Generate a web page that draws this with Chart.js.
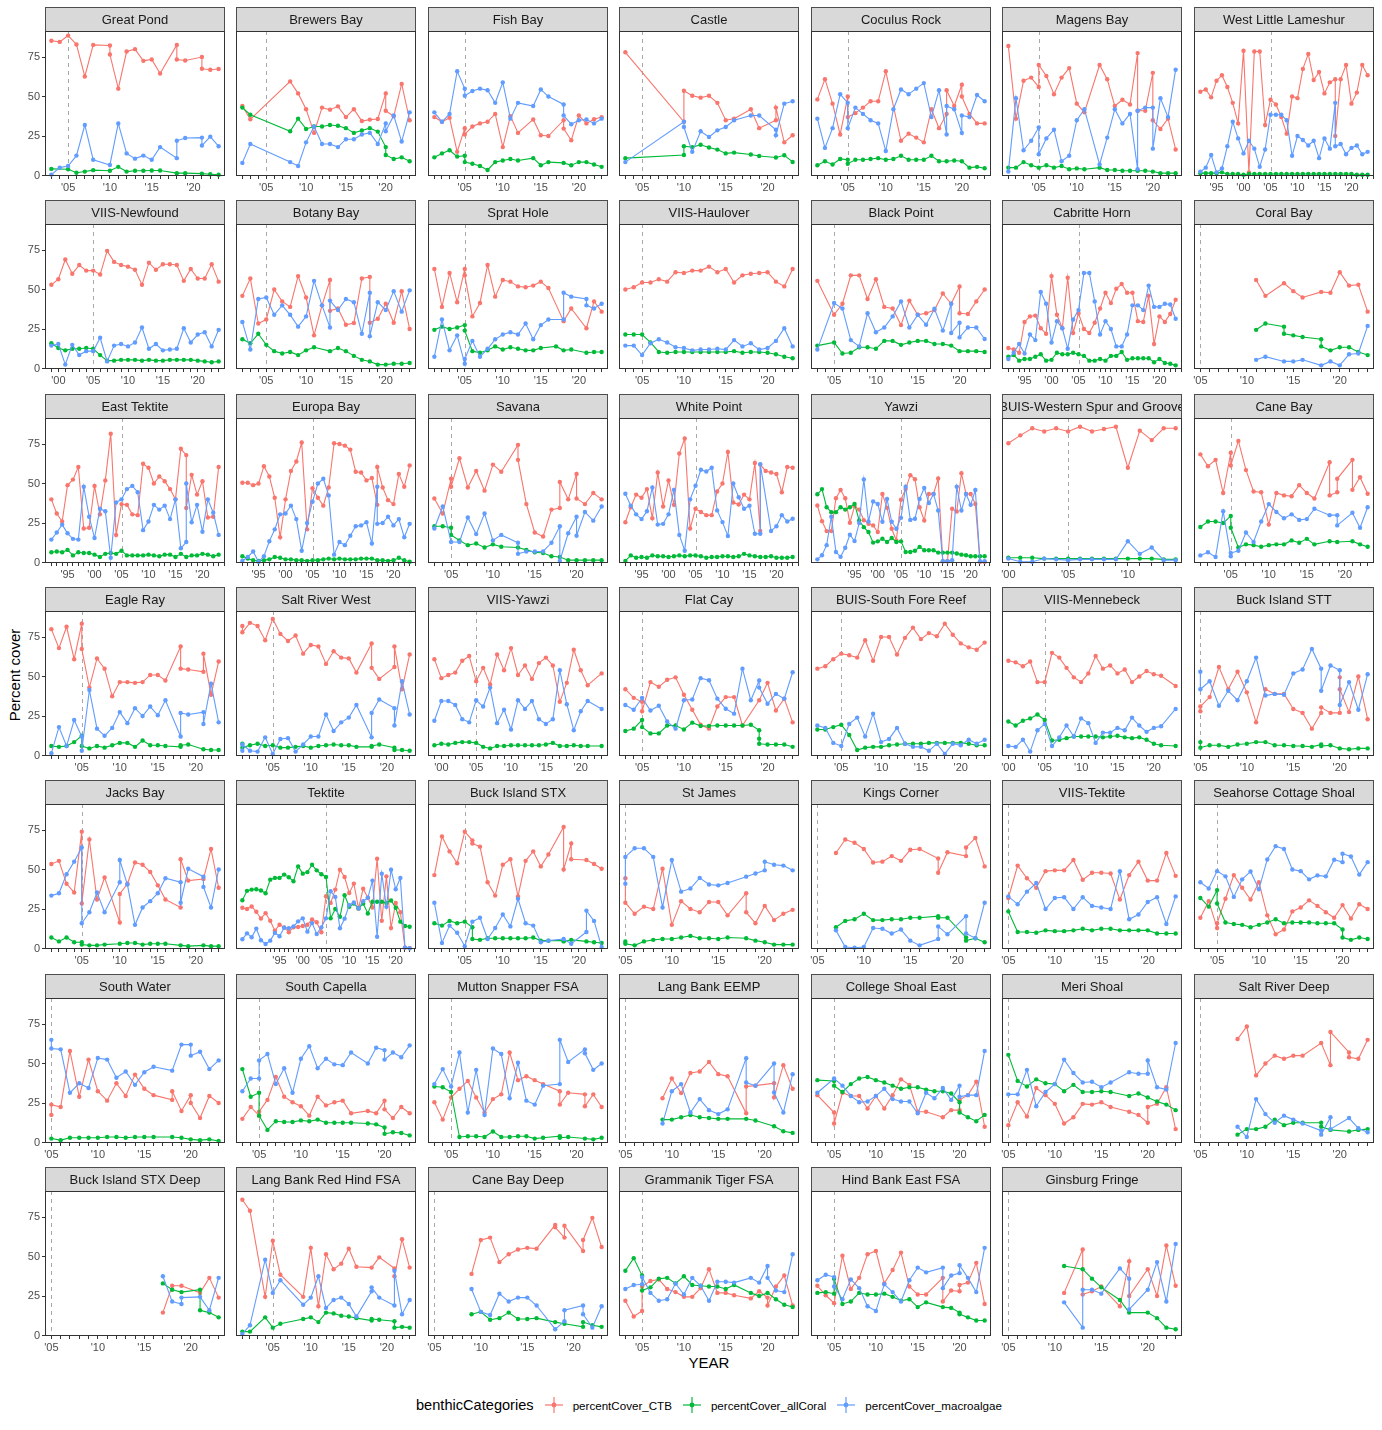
<!DOCTYPE html>
<html lang="en">
<head>
<meta charset="UTF-8">
<title>Percent cover by site</title>
<script src="https://cdn.jsdelivr.net/npm/chart.js"></script>
<style>
  body { margin: 0; background: #fff; font-family: "Liberation Sans", Arial, Helvetica, sans-serif; }
  #page { position: relative; width: 1382px; height: 1430px; overflow: hidden; background: #fff; }
  #page canvas { position: absolute; }
  .title { position: absolute; color: #000; font-size: 15px; white-space: nowrap; }
  #ytitle { left: 14px; top: 675px; transform: translate(-50%, -50%) rotate(-90deg); }
  #xtitle { left: 709px; top: 1362px; transform: translate(-50%, -50%); }
  #legend { position: absolute; left: 416px; top: 1405px; transform: translateY(-50%);
            display: flex; align-items: center; color: #000; white-space: nowrap; }
  #legend .head { font-size: 14.6px; margin-right: 11px; }
  #legend .item { display: flex; align-items: center; font-size: 11.6px; margin-right: 11px; }
  #legend svg { margin-right: 10px; }
</style>
</head>
<body>
<div id="page">
  <div class="title" id="ytitle">Percent cover</div>
  <div class="title" id="xtitle">YEAR</div>
  <div id="legend"><span class="head">benthicCategories</span></div>
</div>

<script>
// ---- data ----
const SERIES_NAMES = ['percentCover_CTB', 'percentCover_allCoral', 'percentCover_macroalgae'];

const SITE_NAMES = [
  'Great Pond', 'Brewers Bay', 'Fish Bay', 'Castle', 'Coculus Rock', 'Magens Bay', 'West Little Lameshur',
  'VIIS-Newfound', 'Botany Bay', 'Sprat Hole', 'VIIS-Haulover', 'Black Point', 'Cabritte Horn', 'Coral Bay',
  'East Tektite', 'Europa Bay', 'Savana', 'White Point', 'Yawzi', 'BUIS-Western Spur and Groove', 'Cane Bay',
  'Eagle Ray', 'Salt River West', 'VIIS-Yawzi', 'Flat Cay', 'BUIS-South Fore Reef', 'VIIS-Mennebeck', 'Buck Island STT',
  'Jacks Bay', 'Tektite', 'Buck Island STX', 'St James', 'Kings Corner', 'VIIS-Tektite', 'Seahorse Cottage Shoal',
  'South Water', 'South Capella', 'Mutton Snapper FSA', 'Lang Bank EEMP', 'College Shoal East', 'Meri Shoal', 'Salt River Deep',
  'Buck Island STX Deep', 'Lang Bank Red Hind FSA', 'Cane Bay Deep', 'Grammanik Tiger FSA', 'Hind Bank East FSA', 'Ginsburg Fringe'
];

const SITE_YEARS = [
  [2003,2004,2005,2006,2007,2008,2010,2010,2011,2012,2013,2014,2015,2016,2018,2018,2019,2021,2021,2022,2023],
  [2002,2003,2008,2009,2010,2011,2012,2013,2014,2015,2016,2017,2018,2019,2020,2020,2021,2022,2023],
  [2001,2002,2003,2004,2005,2005,2006,2007,2008,2009,2010,2011,2012,2014,2015,2016,2018,2018,2019,2020,2021,2022,2023],
  [2003,2010,2010,2011,2012,2013,2014,2015,2016,2018,2019,2021,2021,2022,2023],
  [2001,2002,2003,2004,2005,2005,2006,2007,2008,2009,2010,2011,2012,2013,2014,2015,2016,2017,2018,2018,2019,2020,2020,2021,2022,2023],
  [2001,2002,2003,2004,2005,2005,2006,2007,2008,2009,2010,2011,2013,2014,2015,2016,2017,2018,2018,2019,2020,2020,2021,2022,2023],
  [1992,1993,1994,1995,1996,1997,1998,1999,2000,2001,2002,2003,2004,2005,2006,2007,2008,2009,2010,2011,2012,2013,2014,2015,2016,2017,2017,2018,2019,2020,2021,2022,2023],
  [1999,2000,2001,2002,2003,2004,2005,2006,2007,2008,2009,2010,2011,2012,2013,2014,2015,2016,2017,2018,2019,2020,2021,2022,2023],
  [2002,2003,2004,2005,2006,2007,2008,2009,2010,2011,2012,2013,2013,2014,2015,2016,2017,2018,2018,2019,2020,2021,2022,2023],
  [2001,2002,2003,2004,2005,2005,2006,2007,2008,2009,2010,2011,2012,2013,2014,2015,2016,2017,2018,2018,2019,2021,2021,2022,2023],
  [2003,2004,2005,2006,2007,2008,2009,2010,2011,2012,2013,2014,2015,2016,2017,2018,2019,2020,2021,2022,2023],
  [2003,2005,2006,2007,2008,2009,2010,2011,2012,2013,2014,2015,2016,2017,2018,2019,2019,2020,2020,2021,2022,2023],
  [1992,1993,1994,1995,1996,1997,1998,1999,2000,2001,2002,2003,2004,2005,2006,2007,2008,2009,2010,2011,2012,2013,2014,2015,2016,2017,2018,2019,2020,2021,2022,2023],
  [2011,2012,2014,2014,2015,2016,2018,2018,2019,2020,2021,2022,2023],
  [1992,1993,1994,1995,1996,1997,1998,1999,2000,2001,2002,2003,2004,2005,2006,2007,2008,2009,2010,2011,2012,2013,2014,2015,2016,2017,2017,2018,2019,2020,2021,2022,2023],
  [1992,1993,1994,1995,1996,1997,1998,1999,2000,2001,2002,2003,2004,2005,2006,2007,2008,2009,2010,2011,2012,2013,2014,2015,2016,2017,2017,2018,2019,2020,2021,2022,2023],
  [2003,2004,2005,2005,2006,2007,2008,2009,2010,2011,2013,2013,2014,2015,2016,2017,2018,2018,2019,2020,2020,2021,2022,2023],
  [1992,1993,1994,1995,1996,1997,1998,1999,2000,2001,2002,2003,2004,2005,2006,2007,2008,2009,2010,2011,2012,2013,2014,2015,2016,2017,2017,2018,2019,2020,2021,2022,2023],
  [1987,1988,1989,1990,1991,1992,1993,1994,1995,1996,1997,1998,1999,2000,2001,2002,2003,2004,2005,2006,2007,2008,2009,2010,2011,2012,2013,2014,2015,2016,2017,2018,2019,2020,2021,2022,2023],
  [2000,2001,2002,2003,2004,2005,2006,2007,2008,2009,2010,2011,2012,2013,2014],
  [2001,2002,2003,2004,2005,2005,2006,2007,2008,2009,2010,2011,2012,2013,2014,2015,2016,2018,2018,2019,2019,2021,2021,2022,2023],
  [2001,2002,2003,2004,2005,2005,2006,2007,2008,2009,2010,2011,2012,2013,2014,2015,2016,2018,2018,2019,2021,2021,2022,2023],
  [2001,2001,2002,2003,2004,2005,2006,2007,2008,2009,2010,2011,2012,2013,2014,2015,2016,2018,2018,2019,2021,2021,2022,2023],
  [1999,2000,2001,2002,2003,2004,2005,2006,2007,2008,2009,2010,2011,2012,2013,2014,2015,2016,2017,2018,2019,2020,2021,2023],
  [2003,2004,2005,2005,2006,2007,2008,2009,2010,2011,2012,2013,2014,2015,2016,2017,2018,2019,2019,2019,2020,2021,2022,2023],
  [2002,2003,2004,2005,2006,2007,2008,2009,2010,2011,2012,2013,2014,2015,2016,2017,2018,2019,2020,2021,2022,2023],
  [2000,2001,2002,2003,2004,2005,2006,2007,2008,2009,2010,2011,2012,2013,2014,2015,2016,2017,2018,2019,2020,2021,2023],
  [2005,2005,2006,2007,2008,2009,2010,2011,2012,2013,2014,2015,2016,2017,2018,2018,2019,2020,2020,2020,2021,2022,2023],
  [2001,2002,2003,2004,2005,2005,2006,2007,2008,2010,2010,2011,2012,2013,2014,2015,2016,2018,2018,2019,2021,2021,2022,2023],
  [1987,1988,1989,1990,1991,1992,1993,1994,1995,1996,1997,1998,1999,2000,2001,2002,2003,2004,2005,2006,2007,2008,2009,2010,2011,2012,2013,2014,2015,2016,2017,2018,2019,2020,2021,2022,2023],
  [2001,2002,2003,2004,2005,2006,2006,2007,2008,2009,2010,2011,2012,2013,2014,2015,2016,2018,2018,2019,2019,2021,2021,2022,2023],
  [2005,2005,2006,2007,2008,2009,2010,2011,2012,2013,2014,2015,2016,2018,2018,2019,2020,2020,2021,2022,2023],
  [2007,2008,2009,2010,2011,2012,2013,2014,2015,2016,2018,2018,2019,2021,2021,2022,2023],
  [2005,2006,2007,2008,2009,2010,2011,2012,2013,2014,2015,2016,2017,2018,2019,2020,2021,2022,2023],
  [2003,2004,2005,2005,2006,2007,2008,2009,2010,2011,2012,2013,2014,2015,2016,2017,2018,2019,2020,2020,2021,2022,2023],
  [2005,2005,2006,2007,2008,2009,2010,2011,2012,2013,2014,2015,2016,2018,2018,2019,2020,2020,2021,2022,2023],
  [2003,2004,2005,2005,2006,2007,2008,2009,2010,2011,2012,2013,2014,2015,2016,2018,2019,2020,2020,2021,2022,2023],
  [2003,2004,2005,2006,2007,2008,2009,2010,2011,2012,2013,2014,2015,2016,2018,2018,2019,2021,2021,2022,2023],
  [2009,2010,2011,2012,2013,2014,2015,2016,2018,2018,2019,2021,2021,2022,2023],
  [2003,2005,2005,2006,2007,2008,2009,2010,2011,2012,2013,2014,2015,2016,2017,2018,2019,2020,2020,2021,2022,2023],
  [2005,2006,2007,2008,2009,2010,2011,2012,2013,2014,2015,2016,2018,2019,2020,2020,2021,2022,2023],
  [2009,2010,2011,2012,2013,2014,2015,2016,2018,2018,2019,2019,2021,2021,2022,2023],
  [2017,2018,2019,2019,2021,2021,2022,2023],
  [2001,2002,2004,2005,2006,2009,2010,2011,2012,2013,2014,2015,2016,2018,2018,2019,2021,2021,2022,2023],
  [2009,2010,2011,2012,2013,2014,2015,2016,2018,2018,2019,2019,2021,2021,2022,2023],
  [2003,2004,2005,2005,2006,2007,2008,2009,2010,2011,2012,2013,2014,2015,2016,2018,2019,2020,2020,2021,2022,2023],
  [2003,2004,2005,2005,2006,2007,2008,2009,2010,2011,2012,2013,2014,2015,2016,2018,2018,2019,2020,2020,2021,2022,2023],
  [2011,2013,2013,2014,2015,2017,2018,2018,2020,2021,2022,2023]
];

const CTB_COVER = [
  [85.3,84.6,88.6,83,62.7,82.7,82.3,76.6,55,78.5,80,72.6,73.5,64.6,82.7,73.5,72.8,75,67.6,67,67.4],
  [44,35.6,59.6,52,42,27,43,41.7,43.8,37,42,34.5,35.4,35.8,52,41,37.5,58,35],
  [37,34,36.5,15,30,26,31,33,34,39,18,37.6,27,35.5,25.5,25,35,29.7,22.3,38,33,35.6,37],
  [78,34,53.7,50.5,49.3,50.5,46,35,36,42,30,35,43,21,25.5],
  [48.2,61,45.5,26,50,37,39.5,43,47,47,66,null,22,26.5,24,21,42,30,39,54,44,57.5,50,39,33,33],
  [82,36,60,62,56,70,63,51.5,62,68,45.5,40,70,61,44,48,45,77.5,41,41,65,35,29.5,36,16.5],
  [53,54.5,49.5,60,63.5,56,46,33,79,2,78.5,78.5,32,48,45,37,26.5,50,49,67.5,77,60.5,65.5,52,59,61,25,61,70,45.5,52.5,70,63.5],
  [53,56.5,69,60,65.5,62,62,59.5,74.5,67.5,65.5,64.5,62.5,53,67,62.5,66,66,65.5,55.5,63,57,57,66,55],
  [46,57,28.5,31,50,42.5,39,58.5,45,21,40,56,36.5,38,27.7,28.8,57,58,29,31.5,41,29,49,25],
  [63,39,60.5,42,63,59,33,41.5,65.5,45.5,56,55,52,51.5,52.5,55,51,null,30,null,38,25.5,null,42.5,36],
  [50,51.5,54.5,54.5,56.5,55,61,60.5,62,62,64.5,61,63,54.5,59,60,60.5,61,55,52,63],
  [55.5,34,41,59,59,44,56.5,39,38,27.5,43,34,35,37,47.5,41,null,52,35,34.5,42.5,50],
  [13,12,10,29.5,33,33.5,25.5,22,58.5,34,25.5,57.5,22.5,35,25,22.5,29,38,48,41.5,50.5,53.5,48,48,30,29.5,46,15.5,33,29.5,34.5,43.5],
  [56,46,54,null,49,45,48.5,null,48,61,52.5,53,36],
  [40,31,26,49,52.5,60.5,21.5,22,48.5,30.5,52,81.5,17.5,37,36.5,30.5,30,62.5,60,50,54.5,51.5,46.5,40,72,68,34.5,55.5,43,51.5,28.5,29,60.5],
  [50.5,50.5,49,50,61,54.5,41,16,40,58,64,76,21,47,41,36,47.5,75.5,75,74,71.5,57.5,57,52,53.5,36.5,60.5,47.5,39.5,37,56,48,61.5],
  [40.5,31,53,48,66,47.5,58,45.5,62,57.5,74.5,65,37,19,16.5,33.5,34.5,51,40,56,40.5,37,44,40],
  [25.5,35,43,41,46.5,28,57,35.5,52,36.5,69,78.5,21.5,34,32,30,30,45,50,70,38,36.7,43,40,63,20,62,58,57,56,44.5,60.5,60],
  [36.1,26.2,19.9,19.9,40.7,45.9,40.7,25.2,35.6,33.5,26.8,24.5,23.5,19.3,43.4,34.6,21.4,14,39.8,46.5,55.3,52.8,35,26.6,43.4,43.4,53.2,0.8,0.8,34,32.3,56.6,43.4,43.4,37.1,0.4,0.4],
  [75.5,80.5,85,83,85,83,86,83,84.5,86,60,83.5,77.5,85,85],
  [68.5,61,65,44,69.5,61.5,77,58.5,45,44.5,24,44,42.5,42,49,44,40.5,63.5,42.5,44.5,53,65,46,54,43.5],
  [80,68,81.5,61,83.5,67.5,43,61.5,55,37.5,46.5,46.5,46,46.5,51,51,47.5,69,55,54.5,53,64.5,38.5,59.5],
  [82,78,84,82,73,86.5,77,72.5,76,64.5,70,69,58,66,62,61.5,52.5,71,55.5,48.5,56,69,42,64],
  [61,49,51,52.5,60,63,47,55.5,45,64,54,68,51,57,48.5,58.5,62,57,34,46,67,54,44.5,52],
  [42,36.5,34,28,46.5,43.5,48,49.5,38.5,29,19.5,17,31,37,37,19,null,35,null,null,46,28.5,36,21],
  [55,56.5,61,64.5,63.5,62,73,60,75,75,64,74.5,81,73.7,77.5,75.5,83.5,76.5,71,68.5,67,71.5],
  [60,59,56.5,59.5,46.5,46.5,65,62,55.5,49.5,46.5,52,63,55,57,52,54.5,46.5,50,53.5,51.5,50.5,44],
  [28,31,37,56,42,53,40,21,42,39,39,29.5,27,17,27,30.5,27,27,49.5,42,27.5,50,23],
  [53.5,55.5,41,35.5,74,28.5,69,31,45,16.5,34.5,41,54.5,53,48.5,40,31,26,56.5,43,44,null,63,38.5],
  [25.8,25,26.6,23.3,19,22.4,17.6,11.3,15.1,13.4,10.3,13.4,13.6,14.3,15.1,18.4,16.6,10.3,33.1,28.9,37.3,49.9,45.3,35.2,41.1,25.4,37.9,32.1,26,56.8,17.6,45.7,13,28.9,23,0.6,0.2],
  [46.5,71,61.5,54,74,68.5,66.5,64.5,42,33.5,53,56.5,33,55.5,61.5,52,59.5,77,50,66.5,56.5,56,null,53.5,50.5],
  [44.5,29,22,26.5,25,50.5,15,30,25,23,29.5,29.5,21,35,23,16,27,null,18,22,24.5],
  [60.5,69,67,63,54.5,55,58.5,55.5,62.5,63,57,48,61,58.5,64,70,52],
  [32,52.5,44.5,38.5,49,49.5,49.5,56,43.5,48,48,47.5,31,46.5,55,43,43,60.5,46],
  [19.5,30,13,16,31.5,46.5,38.5,31,42,21,9,12,23.5,26,30.5,27,23,19.5,27.5,null,19,28,25],
  [17.5,24,22.5,58,29,52.5,32.5,26.5,37.5,29.5,43,34,30,27,32.5,20,30,25,15.5,29.5,25],
  [15,22.5,17,19.5,27,41.5,29,25.5,23,17,29,23.5,25.5,26.5,18.5,20,18.5,26.5,21,15.5,22.5,18.5],
  [25.5,14.5,28.5,34,39,28.5,19,27.5,30.5,57,39.5,42,39.5,37,32.5,24,31.5,30.5,23,30.5,22.5],
  [28,40.5,31.3,44,45,51,43.3,42,18.5,35.5,36,37.6,28.6,49,34],
  [30,19,12,31.5,29.5,29.5,21.5,29.5,21.5,30,40,36.5,19.5,19.5,null,16,20.5,20.5,27,30,38.5,10],
  [11,25.5,16.5,34.5,30,24.5,12,16,24.5,24,25.5,22.5,19.5,17.5,12.5,22.5,24.5,35,8.5],
  [65.5,73.5,42.5,50,55,53,55,55,63,null,49,70,57,54,53,65],
  [14.5,31.5,31.5,null,27,null,36.5,24],
  [86,79,24.5,60,38.5,24.5,55.5,18.5,51.5,42,45.5,55,43.5,43,null,49.5,42.5,37.5,61,43],
  [39,60.5,62,46.5,51.5,54.5,55.5,55,70,68.5,62,69.5,53.5,60.5,74.5,56],
  [22,12,15.5,31,34.5,35.5,29.5,27.5,24.5,24.5,30,42,27,27,25.5,23.5,28,24,19,31,38,19],
  [31.5,25.5,20.5,null,50.5,29.5,36.5,51.5,53.5,33,41.5,52.5,31,26,26,36.5,21.5,28.5,28,32,33.5,46,20],
  [27,54.5,26,28,31,18.5,47,25,42,25,57,31.5]
];

const CORAL_COVER = [
  [4.2,null,4,1.8,2.5,3.4,3,null,5.5,2.5,3,3,3.2,3.2,1.5,null,1.5,1.2,null,0.8,0.5],
  [43,38.5,28,36,29.5,31,31,32,31.5,30,27,28.5,30,27.8,18,13,10.5,11.5,9],
  [11.5,14,16,12,12.5,8.5,7.5,6,3.5,8.5,9.5,10.5,9.5,11,6.5,8.5,8,null,6.5,8.5,8.5,7,5.5],
  [11,13,18.5,18,19.5,17.7,16.4,14,14.5,13.3,12.4,11.4,null,12.8,8.6],
  [6.5,9,7,10.5,10,7.5,10,10,10.5,11,10,10.5,12.5,10,10,10,12.5,9,9,null,9.5,9,null,5,5.5,4.6],
  [5,5,8.5,6.5,5,null,6.5,5,6,4,4.5,4,5,3.5,3.5,3,3,3,null,3,2.5,null,1.5,1.5,1.5],
  [1.5,1.5,1.5,1.5,2,1,1,1,0.5,1,1,1,1,1,1,1,1,1,1,1,1,1,1,1,1,1,null,1,1,1,0.5,0.5,0.5],
  [16,13,11.5,12.5,12.5,13,12.5,8.5,5,5,5.5,5.5,5.5,5,5.5,5,5,5.5,5.5,5.5,5.5,5,4.5,4,4.5],
  [18.5,16,22,15,11,9.5,10.5,8.5,11.5,13.5,null,11,null,13,11,8,5.5,4.5,null,2.5,2.5,3,3,3.5],
  [24.5,26.5,25,26,27.5,24,11,10,11.5,14,12,13.5,12.5,11.5,11.5,13,null,14,11.5,null,12,10,null,10.5,10.5],
  [21.5,21.5,21.5,16.5,10.5,10,10.5,10.5,10.5,10.5,10.5,10.5,10.5,11,10,10.5,10.5,10,9,7.5,6.5],
  [14.5,16.5,9.5,10,13.5,13.5,12.5,17.5,17.5,15,16.5,17.5,17.5,15.5,15.5,14.5,null,11,null,11,11,10.5],
  [7.5,8.5,5,6,6,7.5,9,5,5.5,10,9,9,10,9,8,5,5,6,5,8,8,10.5,5.5,6.5,6.5,6.5,6.5,4,6,3.5,3,2],
  [24.5,28.5,26.5,22,21,20,18.5,14,11.5,13.5,13.5,10.5,8.5],
  [6.5,7,6.5,8,4.5,6.5,6,6,5,3.5,5.5,6,5.5,7.5,4.5,4.5,4.5,4.5,5,4.5,4,5,5,3.5,5.5,3.5,null,4.5,4.5,5.5,5,4,5],
  [4,2.5,1.5,1,1.5,2,3.5,3,2,2,1.5,1.5,1,1.5,1.5,2,2.5,2,2.5,2,2,2,2.5,2.5,2.5,1.5,null,1.5,1,1.5,3,1.5,0.5],
  [23,23,22,17.5,14,11,12,9.5,11.5,10,9.5,null,8,6.5,6,4,3.5,null,1.5,1.5,null,1.5,1.5,1.5],
  [1,4.5,3,3.5,3,4.5,4,4,3.5,4,4.5,4,4.5,4.5,4,3,3.5,3.5,4,4,3.5,4,5.5,4.5,4,3.5,null,3.5,4,3,3,3,3.5],
  [43.2,46.5,35,31.9,31.9,35,33.5,35,37.1,26.6,22.4,19.3,12.6,13.4,15.1,13,15.5,13,13.4,6.7,6.7,7.5,9.9,7.8,7.8,7.8,6.3,6.3,6.3,6.3,5.7,5,4.6,4,4,4,4],
  [3,3,3,2.5,2.5,2.5,2.5,2.5,2.5,2.5,2.5,2.5,2.5,2,2],
  [22.5,26,26,25,29.5,22,9.5,11.5,11,10,11,11.5,11.5,14,12.5,15,11.5,13.5,null,13,null,13.5,null,11.5,10],
  [6,5.5,6,8.5,12.5,6,4.5,6,5,6.5,8,8,5.5,9.5,6.5,6.5,6,5.5,6.5,7,4,null,3.5,3.5],
  [7.5,5,6.5,7.5,6,6.5,5,5,5.5,6,5,6,6.5,7,6.5,6.5,5.5,5.5,6,7,5,3.5,3.5,3],
  [6.5,7.5,7,8,8.5,8.5,8,5.5,4.5,6,6,6.5,6.5,6.5,6.5,6.5,7,8,6,6,6.5,6,6,6],
  [15.5,17,22.5,18,14,14,19,19,16.5,20.8,18.7,18.7,19,19,19,19,19.5,16,10.7,7.5,7,7,7,5.5],
  [16.5,16.5,18,19.5,13,3.5,5,5.5,5.5,6.5,7,7.5,7.5,7.5,8,8,8,8,8,7.5,6.5,6.5],
  [21.5,19,22,23.5,26,22.5,9.5,10,11,12,12,12,12,11.5,12,12.5,11.5,11,11.5,10,7.5,6.5,6],
  [8.5,5,6.5,6.5,5.5,7,7.5,8.5,8.5,6.5,6.5,6,6,5.5,7,6,6.5,4.5,null,null,4,4.5,4.5],
  [7,4.5,7,4,4,2.5,2,2,2.5,3,null,3.5,3.5,2.5,3,3,3,2,null,1.5,2,null,1.5,1.5],
  [30.6,36.5,37.3,37.5,36.7,35,43.6,44.7,44.7,46.8,45.1,42.6,52,47.4,48.4,53,49.5,47,45.3,19.1,25,20.1,33.8,26.4,28.5,25.4,28.5,22.2,29.6,29.6,29.6,28.9,30.4,25.8,17,14.3,13.8],
  [16,14.5,17.5,16,17,13.5,6,5.5,6.5,6.5,6.5,6.5,6.5,6.5,7,5,5,5,4.5,5.5,null,4.5,null,4,3.5],
  [4.5,3,2,4.5,5.5,6,6,7,8,6.5,6.5,6,7,6.5,null,5,4,null,2.5,2.5,2.5],
  [13.5,17.5,18.5,22,18,18,18.5,18.5,19.5,19.5,20.5,19.5,19.5,7,5,6.5,4],
  [23.5,10.5,10.5,10,11.5,11,11,11.5,12.5,11.5,12.5,12.5,11.5,11.5,11.5,11.5,9.5,9.5,9.5],
  [32,26.5,37,28.5,16.5,15.5,15,13.5,15,16.5,18.5,16,16.5,16.5,16.5,16,16,16,12,7,5.5,7,6],
  [2.5,null,1.5,3,3,3,3,3.5,3.5,3,3.5,3.5,3.5,3.5,null,3,2,null,1.5,2,1],
  [46.5,29,31.5,17,8,13.5,13,13,14,13.5,14.5,12.5,12.5,12.5,12.5,12,11.5,9.5,5.5,6.5,6,4.5],
  [35.5,35,32,3.5,4,4,3.5,7,3.5,3.5,4,4,2.5,3,4,3,3.5,2.5,null,2,3],
  [14.5,14.5,16,17.4,16,15.5,15,15,15,null,13.9,10.3,null,7.1,6.1],
  [39.5,39,36,32,37,40.5,41.5,39.5,38,36,34,35,35,33.5,32.5,32.5,31,25.5,19,16,13.5,17.5],
  [55.5,39,35.5,40,37.5,37,32.5,36.5,32,32,32.5,32,29.5,31,28.5,null,26,24,20.5],
  [5,8.5,8.5,10,14.5,11,12.5,12.5,12.5,10,8,null,7,null,8,8.5],
  [33,29,27.5,null,29,16,14.5,11.5],
  [2.5,2.5,11.5,5,7.5,10.5,11.5,8.5,14.5,14,12.5,12,11,9.5,10.5,10,9,5,5.5,5],
  [13.5,15,10,11,14.5,10.5,10.5,11,8.5,null,7.5,null,5.5,8.5,6.5,5.5],
  [41,49,38,28.5,30.5,36,36.5,33,37.5,32,31.5,31,31,29.5,32,27,25,27,null,23,19.5,18],
  [27,27.5,26.5,36,20,21.5,27,26,26,26.5,24.5,22,23,18,21,18,null,17.5,14.5,13.5,11.5,9.5,9.5],
  [44,42,null,36,30.5,22.5,14.5,null,14.5,11,5,4]
];

const MACRO_COVER = [
  [0.6,5,6,12.6,32,10,6.7,null,33,14,10.7,12.6,10,18,11,22,23.8,24,19,24.6,18.5],
  [8,20,8.5,6,21,31,20,20,18,23,23,26,27,20,33,28,38,21.5,40],
  [40,34,39,66,55,50.5,53.5,55,54,46,59,36,46,44,54.5,50,45,38,32.5,35,35.5,33,36],
  [8.5,34,30.7,15,28,24.4,28.6,30.7,35,38,38,29,25.5,45.5,47],
  [36,17.5,30,51.5,46,30,43,39,35,33,15.5,42,54.5,51.5,55,58.5,37,54,26,44,42,27,38,37,51,47],
  [2.5,49,16,22,30.5,13.5,23.5,29,9,12.5,35,42,7,24,42,33,39,4,41,43,43,17,49,37,67],
  [2.5,5,13,2,4.5,18.5,34,23.5,14,22,17,5.5,16.5,38.5,38.5,38.5,35,12.5,25,22.5,19,22,11,23.5,17,46,18.5,20,13.5,17.5,19,13.5,15],
  [14.5,15.5,2.5,15,8.5,11,11,19.5,4.5,14.5,15.5,14,16.5,26,12.5,15.5,11.5,12,12.5,25.5,16.5,21.5,23,14,24.5],
  [29.5,12,44,45,34,40,34,26.5,33,55.5,40,26,43,37,44,42,22,48,20.5,42,37,49,36,49.5],
  [7.5,31,11.5,21,3,6,17.5,7.5,12.5,18.5,21.5,23,21.5,28.5,18.5,27.5,31,null,31,48,45.5,44,40,38,41],
  [14.5,14.5,8.5,16,18.5,16.5,13.5,13,11.5,12,12,12.5,12,18,14,16,12,13,17.5,25.5,14],
  [12,41.5,38,18,14,35,23,26,33,42.5,26,34,27.7,37.8,24,41,22.5,29,19.7,26,26,18.7],
  [6,10,15.5,9.5,21.5,18,48.5,41,16.5,30,25.5,12.5,31,37,60.5,60.5,42.5,21.5,30,25,14,14,21.5,40,40,37,52.5,39,39,41,40.5,31.5],
  [5.5,7.5,4.5,null,4.5,5.5,2,null,4.5,2,9,9.5,27],
  [14.5,19,24,18.5,15,14.5,48,29,15.5,34,32.5,3,38,40,46.5,48.5,44.5,20.5,26,36.5,33.5,36,27.5,40,9,13,50,25.5,36.5,19.5,40,31.5,17.5],
  [1,3.5,7,0.5,4,13.5,21,30.5,31,36,27.5,7.5,25,38.5,50,53,42.5,5,13,11,17,23,23.5,25.5,12,48,24.5,25,29,23.5,27.5,16,24.5],
  [21.5,35.5,13,null,13,28.5,18,31,14,17.5,12.5,5.5,7,7,7,12.5,23,1,18.5,29,17,32,26.5,35.5],
  [43.5,36,30.5,27.5,32.5,47.5,24,24.5,30.5,46,17.5,7.5,40,48.6,58.7,57.6,60,33,25.6,16.8,50,41.3,34,36,18.2,18.2,62.3,null,20,23,30,26,27.7],
  [2,4.6,11,29,6.7,3.6,9.4,17.6,13.6,25,52.6,26,38.6,37.1,25.8,40.2,25.8,21.4,28.3,48,27,27.7,40.2,47.2,37.7,43.4,32.9,0.8,0.8,1.5,48,32.9,43.4,36.5,45.9,0.8,0.8],
  [2.5,0.5,0.5,2.5,2,1.5,2,2,2,2,13.5,5.5,9.5,1.5,1.5],
  [4.5,6.5,3.5,32.5,4,6,7.5,19,13,26,37,32,28,30.5,27,27.5,34,30,null,30,23.5,31.5,null,22,35],
  [1.5,18,6,22.5,12,3,41.5,17,12.5,17.5,27.5,20.5,30,25,31,25.5,35,12,27,26,27.5,20,45.5,21],
  [3,7,3,2.5,11.5,1,10.5,11,2.5,7,12,12,26,15.5,21,24,32,11.5,27,35.5,30,19,47,26],
  [22,34.5,34.5,32,23,21,35,31,43,20.5,29,16.5,35,29.5,34.5,23,20,23,54,32.5,16,28,34.5,29.5],
  [32,29,36.5,null,28.5,31.5,21.5,17,35,35.5,49,47.7,36,29.6,26.5,55,35,47.5,43,null,32.8,39,36,52.7],
  [19,17.5,8,6,20,24,12,26.5,8.5,10.5,17.5,7.5,5.5,5.5,3,7.5,1,7.5,6.5,10,7.5,10],
  [6,5.5,10,2.5,16,20,6,11.5,19,12,23.5,20.5,8,14.5,14.5,17.5,16,24,19,15,17.5,18.5,29.5],
  [53,42,47,31.5,41,35,47,62,38,39,38.5,52,54.5,67.5,55,41,57,54,32,null,46.5,29,51.5],
  [33.5,35,47,55,64,16,23,35.5,23,42,56,40.5,15,26,30,35,44.5,42,29,50.5,45.5,39,26,50],
  [5.9,9.6,7.1,12.6,5.2,2.9,5,9.9,7.8,13.2,12.8,14,17.2,19.1,10.7,16.1,9.2,13.4,19.1,36.3,32.7,12.8,18.9,27.5,29.1,25.4,30,32.1,43,7.5,47.4,26.4,49.9,37.5,44.7,0.6,0.2],
  [29,3.5,14.5,10,1.5,17,null,19.5,6,13,21.5,14,31.5,16,14.5,4,5,6,null,3,null,10.5,24,17.5,1],
  [41,58,63.5,63.5,58,26,56,36,38,44.7,40.5,40,41.5,45.5,null,47.5,49.5,55,53,52.5,49.5],
  [11.5,1,0.5,1,13,12.5,9.5,12,5,2,6,14,9,20.5,9.5,6.5,29],
  [33,28,36,41.5,25,32,32.5,25,32.5,27,26,25,49,18.5,21.5,29.5,32.5,15.5,33],
  [42,38,49,null,45.7,32.7,43.8,48.8,37.5,56.4,64.8,63,50,49,43.8,46.3,45.7,56.2,54.7,60,58.3,46.8,54.7],
  [65,59.5,59,31.5,37.5,34.5,53.5,52.5,41,45,36.5,44.5,48,45.5,null,62,62,55,57.5,46.5,52],
  [32.5,40.5,40.5,52,56,37,47,31.5,53,61,47,53,49.5,49,57,50,60,58.5,52.5,57,54,61.5],
  [37,46.5,35.5,57,19,46,17.5,59.5,56,28,50.5,26.5,24,36,37,65,51,59,56.5,46,50],
  [12,32.5,37,19,27.5,20.5,18,21,53.4,38,36,50,31.7,19,43.3],
  [31.5,40.5,null,36,29.5,25.5,26,29.5,34,27.5,26,26,18.5,31.5,28,34.5,27,36,29,30,30,58],
  [30.5,30.5,46,23,32,37,52.5,44,38,38.5,35,38,44.5,43.5,43.5,52,35,33.5,63],
  [10,3.5,27.5,18,12.5,17,14.5,12,7.5,5,16,8.5,15.5,null,9,6.5],
  [37.5,21.5,20,24,24.5,null,16,36.5],
  [1,6.5,48,27,35,19.5,24,37.5,17.5,22.5,24,20,12,28,30.5,24,19,41,13.5,22.5],
  [29.5,15,13,26.5,21.5,24,24,19,4,null,9,16,19,13.5,5,18.5],
  [29.5,32,32.5,37,27,22,23,33,26,36.5,31.5,22,34,34,33.5,36.5,33.5,44,36.5,28.5,27.5,51.5],
  [35,38.5,37,31,23,35.5,30,18.5,15.5,32.5,27.5,21.5,35,43,40,43,30,38,39.5,44.5,36.5,27.5,55.5],
  [21,5,29,29,26.5,42.5,36,16.5,29,46.5,21.5,58]
];

const Y_TICKS = [0, 25, 50, 75];
const REF_YEAR = 2005;     // dashed reference line
const FIRST_BREAK = 1992;  // year ticks start here

// ---- look ----
const FONT = '"Liberation Sans", Arial, Helvetica, sans-serif';
const COLORS = ['#F8766D', '#00BA38', '#619CFF'];
const NCOL = 7;
const LEFT0 = 44.5, COL_PITCH = 191.5, PANEL_W = 181;
const TOP0 = 7, ROW_PITCH = 193.3, STRIP_H = 24, PLOT_H = 145;
const YAXIS_W = 34, XAXIS_H = 22, RIGHT_PAD = 3;
const Y_MIN = -0.3, Y_MAX = 91.5;

const page = document.getElementById('page');

function xLimits(years) {
  const lo = Math.min(REF_YEAR, ...years), hi = Math.max(REF_YEAR, ...years);
  const pad = 0.038 * (hi - lo);
  return [lo - pad, hi + pad];
}

function yearTicks(min, max) {
  const out = [];
  for (let v = Math.max(FIRST_BREAK, Math.ceil(min)); v <= Math.floor(max); v++) out.push({ value: v });
  return out;
}

function points(years, vals) {
  return years.map((yr, i) => ({ x: yr, y: vals[i] }));
}

// strip, panel border and the 2005 dashed line
const facetPlugin = {
  id: 'facet',
  beforeDatasetsDraw(chart) {
    const { ctx, chartArea: a, scales: { x } } = chart;
    const px = Math.round(x.getPixelForValue(REF_YEAR)) + 0.5;
    ctx.save();
    ctx.strokeStyle = '#A8A8A8';
    ctx.lineWidth = 1;
    ctx.setLineDash([4, 4]);
    ctx.beginPath();
    ctx.moveTo(px, a.top);
    ctx.lineTo(px, a.bottom);
    ctx.stroke();
    ctx.restore();
  },
  afterDraw(chart, args, opts) {
    const { ctx, chartArea: a } = chart;
    ctx.save();
    // strip
    ctx.fillStyle = '#D9D9D9';
    ctx.fillRect(a.left, a.top - STRIP_H, a.width, STRIP_H);
    ctx.strokeStyle = '#4D4D4D';
    ctx.lineWidth = 1;
    ctx.strokeRect(a.left + 0.5, a.top - STRIP_H + 0.5, a.width - 1, STRIP_H);
    ctx.save();
    ctx.beginPath();
    ctx.rect(a.left + 1, a.top - STRIP_H, a.width - 2, STRIP_H);
    ctx.clip();
    ctx.fillStyle = '#1A1A1A';
    ctx.font = '13px ' + FONT;
    ctx.textAlign = 'center';
    ctx.textBaseline = 'middle';
    ctx.fillText(opts.title, (a.left + a.right) / 2, a.top - STRIP_H / 2 + 1);
    ctx.restore();
    // panel border
    ctx.strokeStyle = '#333333';
    ctx.strokeRect(a.left + 0.5, a.top + 0.5, a.width - 1, a.height - 1);
    ctx.restore();
  }
};

SITE_NAMES.forEach((name, i) => {
  const col = i % NCOL, row = Math.floor(i / NCOL);
  const years = SITE_YEARS[i];
  const [xmin, xmax] = xLimits(years);

  const canvas = document.createElement('canvas');
  canvas.width = YAXIS_W + PANEL_W + RIGHT_PAD;
  canvas.height = STRIP_H + PLOT_H + XAXIS_H;
  canvas.style.left = (Math.round(LEFT0 + col * COL_PITCH) - YAXIS_W) + 'px';
  canvas.style.top = Math.round(TOP0 + row * ROW_PITCH) + 'px';
  page.appendChild(canvas);

  const series = [CTB_COVER[i], CORAL_COVER[i], MACRO_COVER[i]];
  const datasets = series.map((vals, k) => ({
    label: SERIES_NAMES[k],
    data: points(years, vals),
    borderColor: COLORS[k],
    backgroundColor: COLORS[k],
    pointBackgroundColor: COLORS[k],
    pointBorderWidth: 0,
    pointRadius: 2.2,
    borderWidth: 1.1,
    tension: 0,
    spanGaps: true,
    clip: 4,
    order: 3 - k   // macroalgae drawn on top
  }));

  new Chart(canvas, {
    type: 'line',
    data: { datasets },
    options: {
      responsive: false,
      maintainAspectRatio: false,
      animation: false,
      events: [],
      layout: { padding: { top: STRIP_H, right: RIGHT_PAD, left: 0, bottom: 0 } },
      plugins: {
        legend: { display: false },
        tooltip: { enabled: false },
        facet: { title: name }
      },
      scales: {
        x: {
          type: 'linear',
          min: xmin,
          max: xmax,
          afterBuildTicks: s => { s.ticks = yearTicks(xmin, xmax); },
          afterFit: s => { s.height = XAXIS_H; },
          grid: { drawOnChartArea: false, drawTicks: true, tickLength: 3, color: '#333333', lineWidth: 1 },
          border: { display: false },
          ticks: {
            autoSkip: false, maxRotation: 0, minRotation: 0, padding: 2,
            color: '#4D4D4D', font: { family: FONT, size: 11 },
            callback: v => (v % 5 === 0 ? "'" + String(v).slice(2) : '')
          }
        },
        y: {
          min: Y_MIN,
          max: Y_MAX,
          afterBuildTicks: s => { s.ticks = Y_TICKS.map(v => ({ value: v })); },
          afterFit: s => { s.width = YAXIS_W; },
          grid: { display: col === 0, drawOnChartArea: false, tickLength: 3, color: '#333333' },
          border: { display: false },
          ticks: { display: col === 0, padding: 2, color: '#4D4D4D', font: { family: FONT, size: 11 } }
        }
      }
    },
    plugins: [facetPlugin]
  });
});

// legend
const legend = document.getElementById('legend');
SERIES_NAMES.forEach((label, k) => {
  const item = document.createElement('span');
  item.className = 'item';
  item.innerHTML =
    '<svg width="18" height="18" viewBox="0 0 18 18">' +
    '<line x1="0" y1="9" x2="18" y2="9" stroke="' + COLORS[k] + '" stroke-width="1.2"/>' +
    '<line x1="9" y1="1" x2="9" y2="17" stroke="' + COLORS[k] + '" stroke-width="1.2"/>' +
    '<circle cx="9" cy="9" r="2.4" fill="' + COLORS[k] + '"/></svg>' +
    '<span>' + label + '</span>';
  legend.appendChild(item);
});
</script>
</body>
</html>
